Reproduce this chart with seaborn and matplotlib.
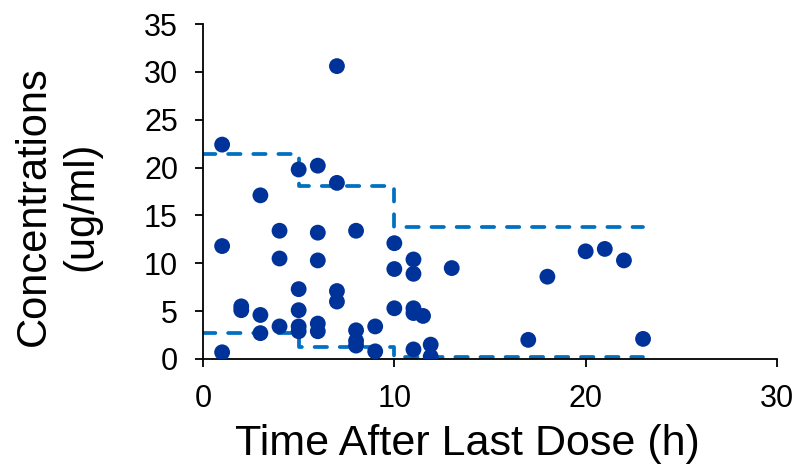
import matplotlib
matplotlib.use("Agg")
import matplotlib.pyplot as plt
import seaborn as sns
import pandas as pd

# observed concentrations
time_h = [1, 1, 1, 2, 2, 3, 3, 3, 4, 4, 4, 5, 5, 5, 5, 5, 6, 6, 6, 6, 6,
          7, 7, 7, 7, 8, 8, 8, 8, 9, 9, 10, 10, 10, 11, 11, 11, 11, 11,
          11.5, 11.9, 11.9, 13, 17, 18, 20, 21, 22, 23]
conc = [22.4, 11.8, 0.7, 5.5, 5.1, 17.1, 4.6, 2.7, 13.4, 10.5, 3.4,
        19.8, 7.3, 5.1, 3.4, 2.9, 20.2, 13.2, 10.3, 3.7, 2.9,
        30.6, 18.4, 7.1, 6.0, 13.4, 3.0, 1.9, 1.4, 3.4, 0.8,
        12.1, 9.4, 5.3, 10.4, 8.9, 5.3, 4.8, 1.0,
        4.5, 1.5, 0.25, 9.5, 2.0, 8.6, 11.25, 11.5, 10.3, 2.1]

# step bounds (dashed)
step_x = [0, 5, 10, 23]
upper_y = [21.4, 18.1, 13.8, 13.8]
lower_y = [2.7, 1.3, 0.25, 0.25]

df = pd.DataFrame({"time": time_h, "conc": conc})
bounds = pd.DataFrame({"time": step_x, "upper": upper_y, "lower": lower_y})

sns.set_style("white")
plt.rcParams["font.family"] = ["Liberation Sans", "DejaVu Sans"]
plt.rcParams["text.color"] = "black"
plt.rcParams["axes.labelcolor"] = "black"

fig, ax = plt.subplots(figsize=(7.97, 4.69), dpi=100)
fig.subplots_adjust(left=203 / 797, right=777 / 797, top=1 - 24 / 469, bottom=1 - 359 / 469)

for col in ["upper", "lower"]:
    sns.lineplot(data=bounds, x="time", y=col, ax=ax, color="#0070C0",
                 linewidth=2.7, linestyle=(0, (3.3, 3.4)), drawstyle="steps-post",
                 dash_capstyle="round", estimator=None, sort=False, zorder=2)

sns.scatterplot(data=df, x="time", y="conc", ax=ax, color="#003399",
                s=130, edgecolor="none", zorder=3)

ax.set_xlim(0, 30)
ax.set_ylim(0, 35)
ax.set_xticks([0, 10, 20, 30])
ax.set_yticks(range(0, 36, 5))
sns.despine(ax=ax)
for s in ["left", "bottom"]:
    ax.spines[s].set_color("black")
    ax.spines[s].set_linewidth(1.3)
ax.tick_params(axis="both", direction="out", length=6, width=1.3, color="black",
               labelcolor="black", labelsize=22, pad=12, bottom=True, left=True)
ax.set_xlabel("Time After Last Dose (h)", fontsize=31, va="top")
ax.xaxis.set_label_coords(0.46, -0.195)
ax.set_ylabel("Concentrations\n(ug/ml)", fontsize=30, va="center", linespacing=1.25)
ax.yaxis.set_label_coords(-0.253, 0.457)

fig.savefig("out.png", dpi=100)
